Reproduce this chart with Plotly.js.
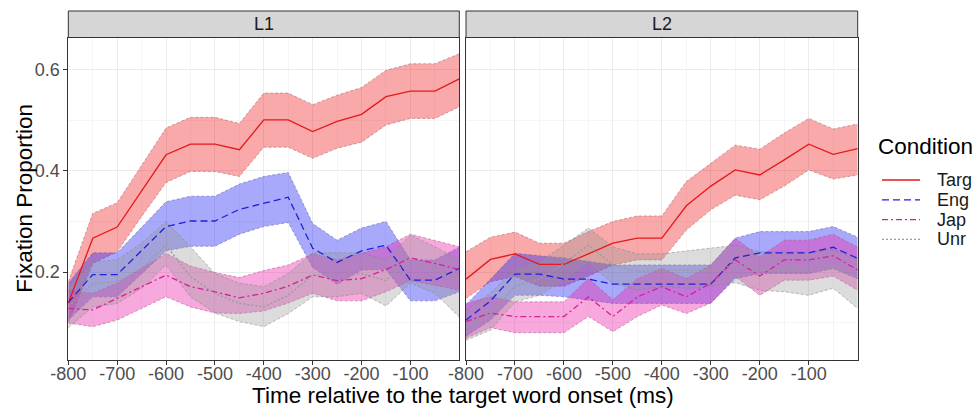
<!DOCTYPE html>
<html>
<head>
<meta charset="utf-8">
<script src="https://cdn.plot.ly/plotly-3.0.1.min.js"></script>
<style>
  html, body { margin: 0; padding: 0; background: #ffffff; }
  #chart { width: 976px; height: 409px; }
</style>
</head>
<body>
<div id="chart"></div>
<script>
// Time bins (ms relative to target word onset)
const time = [-800, -750, -700, -650, -600, -550, -500, -450, -400, -350, -300, -250, -200, -150, -100, -50, 0];
const xTicks = [-800, -700, -600, -500, -400, -300, -200, -100];
const yTicks = [0.2, 0.4, 0.6];
const panels = ["L1", "L2"];
const conditions = ["Targ", "Eng", "Jap", "Unr"];

// L1 group: mean fixation proportion and ribbon bounds
const targL1   = [0.138, 0.267, 0.289, 0.360, 0.432, 0.453, 0.453, 0.442, 0.501, 0.501, 0.478, 0.498, 0.512, 0.547, 0.558, 0.558, 0.582];
const targL1Lo = [0.100, 0.217, 0.240, 0.310, 0.377, 0.399, 0.399, 0.389, 0.447, 0.447, 0.425, 0.445, 0.457, 0.491, 0.504, 0.504, 0.527];
const targL1Hi = [0.181, 0.316, 0.337, 0.410, 0.485, 0.506, 0.506, 0.494, 0.554, 0.554, 0.531, 0.550, 0.565, 0.599, 0.612, 0.612, 0.632];

const engL1    = [0.140, 0.195, 0.195, 0.243, 0.290, 0.301, 0.301, 0.324, 0.336, 0.348, 0.247, 0.219, 0.242, 0.253, 0.184, 0.184, 0.207];
const engL1Lo  = [0.105, 0.151, 0.151, 0.196, 0.242, 0.251, 0.251, 0.275, 0.290, 0.298, 0.209, 0.176, 0.204, 0.205, 0.143, 0.143, 0.161];
const engL1Hi  = [0.178, 0.238, 0.238, 0.289, 0.339, 0.350, 0.350, 0.374, 0.389, 0.397, 0.296, 0.263, 0.287, 0.300, 0.224, 0.224, 0.249];

const japL1    = [0.128, 0.125, 0.148, 0.171, 0.194, 0.171, 0.161, 0.149, 0.158, 0.172, 0.194, 0.183, 0.187, 0.205, 0.228, 0.217, 0.205];
const japL1Lo  = [0.099, 0.092, 0.105, 0.128, 0.151, 0.131, 0.119, 0.118, 0.123, 0.139, 0.158, 0.143, 0.143, 0.161, 0.183, 0.174, 0.164];
const japL1Hi  = [0.164, 0.158, 0.178, 0.207, 0.237, 0.212, 0.199, 0.189, 0.203, 0.214, 0.236, 0.224, 0.237, 0.250, 0.275, 0.263, 0.250];

const unrL1    = [0.131, 0.178, 0.181, 0.207, 0.253, 0.191, 0.158, 0.138, 0.131, 0.154, 0.194, 0.197, 0.197, 0.183, 0.227, 0.205, 0.184];
const unrL1Lo  = [0.090, 0.131, 0.138, 0.168, 0.214, 0.151, 0.119, 0.102, 0.092, 0.118, 0.151, 0.151, 0.158, 0.133, 0.178, 0.158, 0.111];
const unrL1Hi  = [0.170, 0.220, 0.224, 0.257, 0.300, 0.250, 0.197, 0.178, 0.171, 0.197, 0.238, 0.238, 0.238, 0.224, 0.273, 0.250, 0.224];

// L2 group
const targL2   = [0.186, 0.225, 0.236, 0.215, 0.215, 0.236, 0.257, 0.267, 0.267, 0.331, 0.370, 0.402, 0.392, 0.422, 0.453, 0.433, 0.444];
const targL2Lo = [0.148, 0.181, 0.191, 0.172, 0.172, 0.192, 0.214, 0.224, 0.224, 0.283, 0.323, 0.352, 0.343, 0.370, 0.402, 0.384, 0.392];
const targL2Hi = [0.240, 0.269, 0.279, 0.257, 0.257, 0.280, 0.300, 0.311, 0.311, 0.379, 0.415, 0.451, 0.443, 0.475, 0.504, 0.483, 0.493];

const engL2    = [0.105, 0.143, 0.196, 0.196, 0.186, 0.186, 0.176, 0.176, 0.176, 0.176, 0.176, 0.228, 0.238, 0.238, 0.238, 0.249, 0.227];
const engL2Lo  = [0.073, 0.105, 0.154, 0.154, 0.151, 0.145, 0.138, 0.138, 0.138, 0.138, 0.138, 0.187, 0.197, 0.197, 0.197, 0.207, 0.187];
const engL2Hi  = [0.135, 0.187, 0.237, 0.232, 0.228, 0.221, 0.214, 0.214, 0.214, 0.214, 0.214, 0.267, 0.280, 0.280, 0.280, 0.290, 0.269];

const japL2    = [0.102, 0.119, 0.112, 0.112, 0.112, 0.151, 0.112, 0.151, 0.171, 0.151, 0.178, 0.224, 0.192, 0.224, 0.224, 0.232, 0.204];
const japL2Lo  = [0.069, 0.090, 0.080, 0.080, 0.080, 0.112, 0.082, 0.112, 0.135, 0.118, 0.139, 0.191, 0.154, 0.184, 0.184, 0.192, 0.164];
const japL2Hi  = [0.138, 0.151, 0.141, 0.141, 0.141, 0.187, 0.145, 0.187, 0.207, 0.187, 0.214, 0.267, 0.230, 0.263, 0.263, 0.275, 0.249];

const unrL2    = [0.092, 0.118, 0.172, 0.186, 0.217, 0.253, 0.214, 0.201, 0.204, 0.203, 0.203, 0.214, 0.204, 0.203, 0.204, 0.207, 0.187];
const unrL2Lo  = [0.065, 0.085, 0.141, 0.154, 0.184, 0.217, 0.178, 0.164, 0.172, 0.168, 0.172, 0.179, 0.164, 0.161, 0.154, 0.168, 0.128];
const unrL2Hi  = [0.125, 0.158, 0.207, 0.220, 0.253, 0.287, 0.250, 0.236, 0.236, 0.242, 0.247, 0.253, 0.240, 0.240, 0.240, 0.244, 0.224];

const series = {
  L1: {
    Targ: [targL1, targL1Lo, targL1Hi],
    Eng:  [engL1,  engL1Lo,  engL1Hi],
    Jap:  [japL1,  japL1Lo,  japL1Hi],
    Unr:  [unrL1,  unrL1Lo,  unrL1Hi]
  },
  L2: {
    Targ: [targL2, targL2Lo, targL2Hi],
    Eng:  [engL2,  engL2Lo,  engL2Hi],
    Jap:  [japL2,  japL2Lo,  japL2Hi],
    Unr:  [unrL2,  unrL2Lo,  unrL2Hi]
  }
};

// Per-condition styling
const style = {
  Targ: { line: "#e3191c", dash: "solid",           fill: "rgba(240,30,30,0.38)",   edge: "rgba(170,90,90,0.75)" },
  Eng:  { line: "#2020d8", dash: "7px,4px",         fill: "rgba(30,30,245,0.38)",   edge: "rgba(90,90,170,0.75)" },
  Jap:  { line: "#d6209a", dash: "6px,3px,2px,3px", fill: "rgba(235,40,170,0.40)",  edge: "rgba(170,80,130,0.75)" },
  Unr:  { line: "#9a9a9a", dash: "2px,2px",         fill: "rgba(150,150,150,0.33)", edge: "rgba(130,130,130,0.75)" }
};

const FONT = '"Liberation Sans", Arial, Helvetica, sans-serif';
const traces = [];

panels.forEach((p, pi) => {
  const xa = pi === 0 ? "x" : "x2";
  const ya = pi === 0 ? "y" : "y2";
  // ribbons first
  conditions.forEach(c => {
    const [mean, lo, hi] = series[p][c];
    const s = style[c];
    traces.push({
      type: "scatter", mode: "lines", x: time, y: lo, xaxis: xa, yaxis: ya,
      line: { color: s.edge, width: 0.7, dash: "3px,2px" },
      showlegend: false, hoverinfo: "skip"
    });
    traces.push({
      type: "scatter", mode: "lines", x: time, y: hi, xaxis: xa, yaxis: ya,
      fill: "tonexty", fillcolor: s.fill,
      line: { color: s.edge, width: 0.7, dash: "3px,2px" },
      showlegend: false, hoverinfo: "skip"
    });
  });
  // mean lines on top
  conditions.forEach(c => {
    const [mean] = series[p][c];
    const s = style[c];
    traces.push({
      type: "scatter", mode: "lines", x: time, y: mean, xaxis: xa, yaxis: ya,
      name: c, showlegend: false,
      line: { color: s.line, width: 1.3, dash: s.dash }
    });
  });
});

// Panel geometry (pixels)
const W = 976, H = 409;
const leftX0 = 68.3, leftX1 = 459.3, rightX0 = 466, rightX1 = 857.7;
const plotTop = 37.5, plotBottom = 360, stripTop = 11;
const px = v => v / W;
const py = v => 1 - v / H;

const gridColor = "#ebebeb";
const axisCommon = {
  showline: true, mirror: true, linecolor: "#333333", linewidth: 1,
  ticks: "outside", ticklen: 4, tickwidth: 1, tickcolor: "#333333",
  showgrid: true, gridcolor: gridColor, gridwidth: 1,
  zeroline: false,
  tickfont: { family: FONT, size: 18, color: "#4d4d4d" }
};

const xAxis = (domain) => Object.assign({}, axisCommon, {
  domain: domain, range: [-800, 0],
  tickmode: "array", tickvals: xTicks, ticktext: xTicks.map(String),
  ticklabelstandoff: -7,
  minor: { tickmode: "linear", tick0: -800, dtick: 50, showgrid: true, gridcolor: "#efefef", gridwidth: 0.6, ticks: "" }
});

const yRange = [0.026, 0.664];

// Legend drawn as key lines + labels
const legendShapes = [];
const legendNotes = [{
  text: "Condition", xref: "paper", yref: "paper", x: px(876), y: py(146),
  xanchor: "left", yanchor: "middle", showarrow: false,
  font: { family: FONT, size: 22.5, color: "#000000" }
}];
conditions.forEach((c, i) => {
  const yc = 180 + i * 19.8;
  const s = style[c];
  legendShapes.push({
    type: "line", xref: "paper", yref: "paper", x0: px(882), x1: px(920), y0: py(yc), y1: py(yc),
    line: { color: s.line, width: 1.3, dash: s.dash }
  });
  legendNotes.push({
    text: c, xref: "paper", yref: "paper", x: px(935), y: py(yc),
    xanchor: "left", yanchor: "middle", showarrow: false,
    font: { family: FONT, size: 18, color: "#1a1a1a" }
  });
});

const layout = {
  width: W, height: H,
  margin: { l: 0, r: 0, t: 0, b: 0 },
  paper_bgcolor: "#ffffff", plot_bgcolor: "#ffffff",
  font: { family: FONT, color: "#1a1a1a" },
  showlegend: false,
  xaxis: xAxis([px(leftX0), px(leftX1)]),
  xaxis2: Object.assign(xAxis([px(rightX0), px(rightX1)]), { anchor: "y2" }),
  yaxis: Object.assign({}, axisCommon, {
    domain: [py(plotBottom), py(plotTop)], range: yRange, anchor: "x",
    tickmode: "array", tickvals: yTicks, ticktext: yTicks.map(v => v.toFixed(1)),
    minor: { tickmode: "array", tickvals: [0.1, 0.3, 0.5], showgrid: true, gridcolor: "#efefef", gridwidth: 0.6, ticks: "" }
  }),
  yaxis2: Object.assign({}, axisCommon, {
    domain: [py(plotBottom), py(plotTop)], range: yRange, anchor: "x2", matches: "y",
    tickmode: "array", tickvals: yTicks, showticklabels: false, ticks: "",
    minor: { tickmode: "array", tickvals: [0.1, 0.3, 0.5], showgrid: true, gridcolor: "#efefef", gridwidth: 0.6, ticks: "" }
  }),
  shapes: [
    { type: "rect", xref: "paper", yref: "paper", x0: px(leftX0), x1: px(leftX1), y0: py(plotTop), y1: py(stripTop),
      fillcolor: "#d6d6d6", line: { color: "#333333", width: 1 } },
    { type: "rect", xref: "paper", yref: "paper", x0: px(rightX0), x1: px(rightX1), y0: py(plotTop), y1: py(stripTop),
      fillcolor: "#d6d6d6", line: { color: "#333333", width: 1 } }
  ].concat(legendShapes),
  annotations: [
    { text: panels[0], xref: "paper", yref: "paper", x: px((leftX0 + leftX1) / 2), y: py((plotTop + stripTop) / 2),
      showarrow: false, xanchor: "center", yanchor: "middle", font: { family: FONT, size: 18, color: "#1a1a1a" } },
    { text: panels[1], xref: "paper", yref: "paper", x: px((rightX0 + rightX1) / 2), y: py((plotTop + stripTop) / 2),
      showarrow: false, xanchor: "center", yanchor: "middle", font: { family: FONT, size: 18, color: "#1a1a1a" } },
    { text: "Time relative to the target word onset (ms)", xref: "paper", yref: "paper",
      x: px((leftX0 + rightX1) / 2), y: py(395), showarrow: false, xanchor: "center", yanchor: "middle",
      font: { family: FONT, size: 22.5, color: "#000000" } },
    { text: "Fixation Proportion", xref: "paper", yref: "paper", textangle: -90,
      x: px(25), y: py((plotTop + plotBottom) / 2), showarrow: false, xanchor: "center", yanchor: "middle",
      font: { family: FONT, size: 22.5, color: "#000000" } }
  ].concat(legendNotes)
};

Plotly.newPlot("chart", traces, layout, { staticPlot: true, displayModeBar: false });
</script>
</body>
</html>
